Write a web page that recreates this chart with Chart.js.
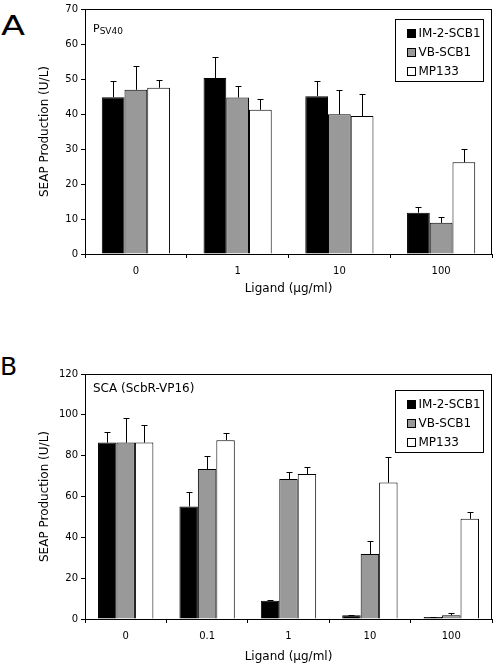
<!DOCTYPE html>
<html>
<head>
<meta charset="utf-8">
<script src="https://cdn.jsdelivr.net/npm/chart.js@4.4.1/dist/chart.umd.min.js"></script>
<style>
  body { margin: 0; background: #fff; width: 496px; height: 666px; position: relative; overflow: hidden; }
  .panel { position: absolute; left: 0; }
  .letter { position: absolute; font-family: 'DejaVu Sans', sans-serif; color: #000; }
</style>
</head>
<body>
<div class="letter" style="left:1px; top:12px; font-size:27px; line-height:27px; transform:scaleX(1.3); transform-origin:left top;">A</div>
<div class="letter" style="left:0px; top:354px; font-size:25px; line-height:25px;">B</div>
<canvas id="chartA" class="panel" style="top:0px" width="496" height="300"></canvas>
<canvas id="chartB" class="panel" style="top:330px" width="496" height="336"></canvas>
<script>
// Panel A - P SV40
const ligandA = ['0', '1', '10', '100'];
const imA = [44.8, 50.3, 45.1, 11.8];
const vbA = [46.9, 44.7, 39.9, 8.9];
const mpA = [47.5, 41.2, 39.4, 26.2];
const imAErr = [4.7, 5.9, 4.4, 1.7];
const vbAErr = [6.9, 3.3, 7.0, 1.8];
const mpAErr = [2.1, 3.0, 6.2, 3.8];

// Panel B - SCA (ScbR-VP16)
const ligandB = ['0', '0.1', '1', '10', '100'];
const imB = [86.4, 55.1, 9.0, 1.8, 1.0];
const vbB = [86.4, 73.5, 68.6, 31.8, 1.8];
const mpB = [86.4, 87.6, 71.0, 66.8, 49.1];
const imBErr = [5.4, 7.2, 0.4, 0.3, 0.2];
const vbBErr = [12.1, 6.1, 3.3, 6.2, 1.0];
const mpBErr = [8.5, 3.3, 3.6, 12.5, 3.1];

const seriesNames = ['IM-2-SCB1', 'VB-SCB1', 'MP133'];
const seriesColors = ['#000000', '#999999', '#ffffff'];

Chart.defaults.font.family = "'DejaVu Sans', sans-serif";
Chart.defaults.color = '#000';

// frame, error bars, in-plot caption and boxed legend (one plugin per panel)
function makeExtras(extra) {
  return {
    id: 'panelExtras',
    afterDatasetsDraw(chart) {
      const ctx = chart.ctx;
      const area = chart.chartArea;
      const y = chart.scales.y;
      ctx.save();
      ctx.strokeStyle = '#000';
      ctx.lineWidth = 1;

      // error bars (upper only)
      chart.data.datasets.forEach((ds, i) => {
        const meta = chart.getDatasetMeta(i);
        meta.data.forEach((bar, j) => {
          const top = y.getPixelForValue(ds.data[j] + extra.errors[i][j]);
          const bx = Math.round(bar.x) + 0.5;
          const ty = Math.round(top) + 0.5;
          ctx.beginPath();
          ctx.moveTo(bx, bar.y);
          ctx.lineTo(bx, ty);
          ctx.moveTo(bx - 3, ty);
          ctx.lineTo(bx + 3, ty);
          ctx.stroke();
        });
      });

      // plot frame
      ctx.strokeRect(Math.round(area.left) + 0.5, Math.round(area.top) + 0.5,
        Math.round(area.right - area.left) - 1, Math.round(area.bottom - area.top));

      // caption inside the plot
      ctx.fillStyle = '#000';
      ctx.textBaseline = 'alphabetic';
      ctx.textAlign = 'left';
      let cx = area.left + 8;
      const cy = area.top + extra.captionY;
      for (const part of extra.caption) {
        ctx.font = part.size + 'px "DejaVu Sans", sans-serif';
        ctx.fillText(part.text, cx, cy + part.shift);
        cx += ctx.measureText(part.text).width;
      }

      // legend box
      const lx = Math.round(area.right - 97) + 0.5;
      const ly = Math.round(area.top + extra.legendTop) + 0.5;
      ctx.fillStyle = '#fff';
      ctx.fillRect(lx, ly, 88, 62);
      ctx.strokeRect(lx, ly, 88, 62);
      ctx.font = '12px "DejaVu Sans", sans-serif';
      ctx.textBaseline = 'middle';
      chart.data.datasets.forEach((ds, i) => {
        const rowY = Math.round(ly + 13 + i * 19);
        ctx.fillStyle = ds.backgroundColor;
        ctx.fillRect(lx + 12, rowY - 4, 8, 8);
        ctx.strokeRect(lx + 12, rowY - 3.5, 8, 8);
        ctx.fillStyle = '#000';
        ctx.fillText(ds.label, lx + 23, rowY + 1);
      });
      ctx.restore();
    }
  };
}

function buildPanel(canvasId, labels, series, errors, yMax, yStep, opts) {
  const datasets = series.map((values, i) => ({
    label: seriesNames[i],
    data: values,
    backgroundColor: seriesColors[i],
    borderColor: '#000',
    borderWidth: 1,
    categoryPercentage: opts.catPct,
    barPercentage: 1.0
  }));

  const config = {
    type: 'bar',
    data: { labels: labels, datasets: datasets },
    options: {
      responsive: false,
      animation: false,
      layout: { padding: { top: opts.topPad, right: 4, left: 0, bottom: 0 } },
      plugins: {
        legend: { display: false },
        tooltip: { enabled: false }
      },
      scales: {
        x: {
          afterFit: scale => { scale.height = opts.xHeight; },
          grid: { display: true, drawOnChartArea: false, drawTicks: true, tickLength: 4, color: '#000', offset: true },
          border: { display: true, color: '#000', width: 1 },
          ticks: { font: { size: 10 }, padding: 7, color: '#000', maxRotation: 0 },
          title: { display: true, text: 'Ligand (μg/ml)', font: { size: 12 }, padding: { top: 0, bottom: opts.titlePad } }
        },
        y: {
          min: 0,
          max: yMax,
          afterFit: scale => { scale.width = 85; },
          grid: { display: true, drawOnChartArea: false, drawTicks: true, tickLength: 4, color: '#000' },
          border: { display: true, color: '#000', width: 1 },
          ticks: { stepSize: yStep, font: { size: 10 }, padding: 3, color: '#000' },
          title: { display: true, text: 'SEAP Production (U/L)', font: { size: 12 }, padding: { top: 38, bottom: 0 } }
        }
      }
    },
    plugins: [makeExtras({
      errors: errors,
      caption: opts.caption,
      captionY: opts.captionY,
      legendTop: opts.legendTop
    })]
  };

  try {
    new Chart(document.getElementById(canvasId).getContext('2d'), config);
  } catch (error) {
    console.error('Error rendering the chart:', error);
  }
}

buildPanel('chartA', ligandA, [imA, vbA, mpA], [imAErr, vbAErr, mpAErr], 70, 10, {
  catPct: 0.67,
  topPad: 9,
  xHeight: 46,
  titlePad: 4,
  captionY: 23,
  legendTop: 10,
  caption: [{ text: 'P', size: 11, shift: 0 }, { text: 'SV40', size: 9, shift: 1.5 }]
});

buildPanel('chartB', ligandB, [imB, vbB, mpB], [imBErr, vbBErr, mpBErr], 120, 20, {
  catPct: 0.68,
  topPad: 44,
  xHeight: 47,
  titlePad: 2,
  captionY: 18,
  legendTop: 16,
  caption: [{ text: 'SCA (ScbR-VP16)', size: 12, shift: 0 }]
});
</script>
</body>
</html>
